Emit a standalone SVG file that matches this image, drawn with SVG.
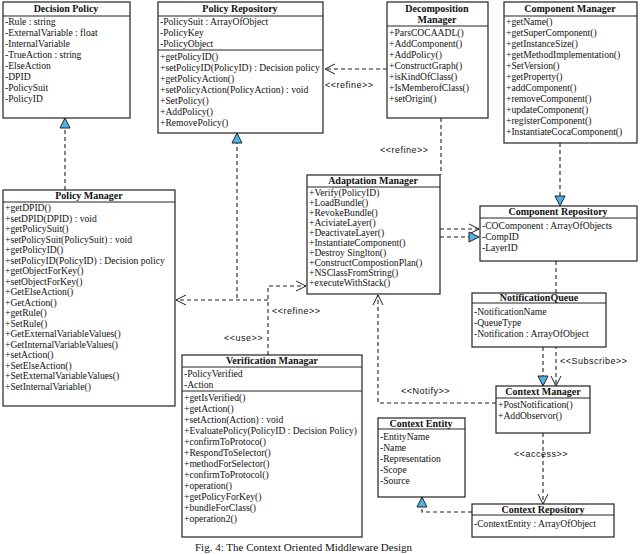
<svg xmlns="http://www.w3.org/2000/svg" width="640" height="554" viewBox="0 0 640 554">
<style>
.b{fill:#fff;stroke:#222;stroke-width:1.2}
.d{stroke:#222;stroke-width:1}
.t{font-family:'Liberation Serif','Times New Roman',serif;font-size:10px;font-weight:bold;text-anchor:middle;fill:#111}
.m{font-family:'Liberation Serif','Times New Roman',serif;font-size:9.6px;fill:#111}
.l{font-family:'Liberation Sans',Arial,sans-serif;font-size:9px;fill:#111;letter-spacing:0.5px}
.c path{fill:none;stroke:#222;stroke-width:1.1;stroke-dasharray:4,3}
.cap{font-family:'Liberation Serif','Times New Roman',serif;font-size:11px;fill:#111}
</style>
<defs>
<marker id="tri" viewBox="0 0 12 12" refX="11" refY="6" markerWidth="12" markerHeight="12" markerUnits="userSpaceOnUse" orient="auto"><path d="M1,1 L11,6 L1,11 Z" fill="#4db3ea" stroke="#222" stroke-width="1"/></marker>
<marker id="arr" viewBox="0 0 12 12" refX="11" refY="6" markerWidth="12" markerHeight="12" markerUnits="userSpaceOnUse" orient="auto"><path d="M1,1 L11,6 L1,11" fill="none" stroke="#222" stroke-width="1"/></marker>
</defs>
<g class="c">
<path d="M65,190 V118" marker-end="url(#tri)"/>
<path d="M237,298 V133" marker-end="url(#tri)"/>
<path d="M268,300 H176" marker-end="url(#arr)"/>
<path d="M268,355 V286 H306" marker-end="url(#arr)"/>
<path d="M387,69 H325" marker-end="url(#arr)"/>
<path d="M441,118 V175"/>
<path d="M560,143 V206" marker-end="url(#tri)"/>
<path d="M440,229 H479" marker-end="url(#arr)"/>
<path d="M440,237 H479" marker-end="url(#tri)"/>
<path d="M556,261 V386" marker-end="url(#arr)"/>
<path d="M543,347 V386" marker-end="url(#tri)"/>
<path d="M496,403 H378 V295" marker-end="url(#arr)"/>
<path d="M543,433 V504" marker-end="url(#arr)"/>
<path d="M472,512 H422 V497" marker-end="url(#tri)"/>
</g>
<g id="labels">
<text class="l" x="325" y="88">&lt;&lt;refine&gt;&gt;</text>
<text class="l" x="380" y="153">&lt;&lt;refine&gt;&gt;</text>
<text class="l" x="272" y="314">&lt;&lt;refine&gt;&gt;</text>
<text class="l" x="224" y="341">&lt;&lt;use&gt;&gt;</text>
<text class="l" x="401" y="394">&lt;&lt;Notify&gt;&gt;</text>
<text class="l" x="560" y="364">&lt;&lt;Subscribe&gt;&gt;</text>
<text class="l" x="514" y="457">&lt;&lt;access&gt;&gt;</text>
</g>
<g id="decision-policy">
<rect class="b" x="3" y="2" width="127" height="116"/><line class="d" x1="3" y1="16" x2="130" y2="16"/>
<text class="t" x="66" y="12">Decision Policy</text>
<text class="m" x="5" y="25">-Rule : string</text><text class="m" x="5" y="36">-ExternalVariable : float</text><text class="m" x="5" y="47">-InternalVariable</text><text class="m" x="5" y="58">-TrueAction : string</text><text class="m" x="5" y="69">-ElseAction</text><text class="m" x="5" y="80">-DPID</text><text class="m" x="5" y="91">-PolicySuit</text><text class="m" x="5" y="102">-PolicyID</text>
</g>
<g id="policy-repository">
<rect class="b" x="158" y="2" width="165" height="131"/><line class="d" x1="158" y1="16" x2="323" y2="16"/><line class="d" x1="158" y1="50" x2="323" y2="50"/>
<text class="t" x="240" y="12">Policy Repository</text>
<text class="m" x="160" y="25">-PolicySuit  : ArrayOfObject</text><text class="m" x="160" y="36">-PolicyKey</text><text class="m" x="160" y="47">-PolicyObject</text>
<text class="m" x="160" y="60">+getPolicyID()</text><text class="m" x="160" y="71">+setPolicyID(PolicyID) : Decision policy</text><text class="m" x="160" y="82">+getPolicyAction()</text><text class="m" x="160" y="93">+setPolicyAction(PolicyAction) : void</text><text class="m" x="160" y="104">+SetPolicy()</text><text class="m" x="160" y="115">+AddPolicy()</text><text class="m" x="160" y="126">+RemovePolicy()</text>
</g>
<g id="decomposition-manager">
<rect class="b" x="387" y="2" width="101" height="116"/><line class="d" x1="387" y1="26" x2="488" y2="26"/>
<text class="t" x="437" y="12">Decomposition</text><text class="t" x="437" y="23">Manager</text>
<text class="m" x="389" y="36">+ParsCOCAADL()</text><text class="m" x="389" y="47">+AddComponent()</text><text class="m" x="389" y="58">+AddPolicy()</text><text class="m" x="389" y="69">+ConstructGraph()</text><text class="m" x="389" y="80">+isKindOfClass()</text><text class="m" x="389" y="91">+IsMemberofClass()</text><text class="m" x="389" y="102">+setOrigin()</text>
</g>
<g id="component-manager">
<rect class="b" x="504" y="2" width="133" height="141"/><line class="d" x1="504" y1="16" x2="637" y2="16"/>
<text class="t" x="570" y="12">Component Manager</text>
<text class="m" x="506" y="25">+getName()</text><text class="m" x="506" y="36">+getSuperComponent()</text><text class="m" x="506" y="47">+getInstanceSize()</text><text class="m" x="506" y="58">+getMethodImplementation()</text><text class="m" x="506" y="69">+SetVersion()</text><text class="m" x="506" y="80">+getProperty()</text><text class="m" x="506" y="91">+addComponent()</text><text class="m" x="506" y="102">+removeComponent()</text><text class="m" x="506" y="113">+updateComponent()</text><text class="m" x="506" y="124">+registerComponent()</text><text class="m" x="506" y="135">+InstantiateCocaComponent()</text>
</g>
<g id="adaptation-manager">
<rect class="b" x="307" y="175" width="133" height="119"/><line class="d" x1="307" y1="187" x2="440" y2="187"/>
<text class="t" x="373" y="184">Adaptation Manager</text>
<text class="m" x="309" y="196">+Verify(PolicyID)</text><text class="m" x="309" y="206">+LoadBundle()</text><text class="m" x="309" y="216">+RevokeBundle()</text><text class="m" x="309" y="226">+AciviateLayer()</text><text class="m" x="309" y="236">+DeactivateLayer()</text><text class="m" x="309" y="246">+InstantiateComponent()</text><text class="m" x="309" y="256">+Destroy Singlton()</text><text class="m" x="309" y="266">+ConstructCompostionPlan()</text><text class="m" x="309" y="276">+NSClassFromString()</text><text class="m" x="309" y="286">+executeWithStack()</text>
</g>
<g id="component-repository">
<rect class="b" x="480" y="206" width="157" height="55"/><line class="d" x1="480" y1="218" x2="637" y2="218"/>
<text class="t" x="558" y="215">Component Repository</text>
<text class="m" x="482" y="229">-COComponent : ArrayOfObjects</text><text class="m" x="482" y="240">-CompID</text><text class="m" x="482" y="251">-LayerID</text>
</g>
<g id="policy-manager">
<rect class="b" x="3" y="190" width="172" height="216"/><line class="d" x1="3" y1="202" x2="175" y2="202"/>
<text class="t" x="89" y="199">Policy Manager</text>
<text class="m" x="5" y="211">+getDPID()</text><text class="m" x="5" y="221.5">+setDPID(DPID) : void</text><text class="m" x="5" y="232">+getPolicySuit()</text><text class="m" x="5" y="242.5">+setPolicySuit(PolicySuit) : void</text><text class="m" x="5" y="253">+getPolicyID()</text><text class="m" x="5" y="263.5">+setPolicyID(PolicyID) : Decision policy</text><text class="m" x="5" y="274">+getObjectForKey()</text><text class="m" x="5" y="284.5">+setObjectForKey()</text><text class="m" x="5" y="295">+GetElseAction()</text><text class="m" x="5" y="305.5">+GetAction()</text><text class="m" x="5" y="316">+getRule()</text><text class="m" x="5" y="326.5">+SetRule()</text><text class="m" x="5" y="337">+GetExternalVariableValues()</text><text class="m" x="5" y="347.5">+GetInternalVariableValues()</text><text class="m" x="5" y="358">+setAction()</text><text class="m" x="5" y="368.5">+SetElseAction()</text><text class="m" x="5" y="379">+SetExternalVariableValues()</text><text class="m" x="5" y="389.5">+SetInternalVariable()</text>
</g>
<g id="verification-managar">
<rect class="b" x="182" y="355" width="180" height="182"/><line class="d" x1="182" y1="367" x2="362" y2="367"/><line class="d" x1="182" y1="391" x2="362" y2="391"/>
<text class="t" x="272" y="364">Verification Managar</text>
<text class="m" x="184" y="377">-PolicyVerified</text><text class="m" x="184" y="388">-Action</text>
<text class="m" x="184" y="401">+getIsVerified()</text><text class="m" x="184" y="412">+getAction()</text><text class="m" x="184" y="423">+setAction(Action) : void</text><text class="m" x="184" y="434">+EvaluatePolicy(PolicyID : Decision Policy)</text><text class="m" x="184" y="445">+confirmToProtoco()</text><text class="m" x="184" y="456">+RespondToSelector()</text><text class="m" x="184" y="467">+methodForSelector()</text><text class="m" x="184" y="478">+confirmToProtocol()</text><text class="m" x="184" y="489">+operation()</text><text class="m" x="184" y="500">+getPolicyForKey()</text><text class="m" x="184" y="511">+bundleForClass()</text><text class="m" x="184" y="522">+operation2()</text>
</g>
<g id="notification-queue">
<rect class="b" x="472" y="293" width="134" height="54"/><line class="d" x1="472" y1="303" x2="606" y2="303"/>
<text class="t" x="539" y="301">NotificationQueue</text>
<text class="m" x="474" y="315">-NotificationName</text><text class="m" x="474" y="326">-QueueType</text><text class="m" x="474" y="337">-Notification : ArrayOfObject</text>
</g>
<g id="context-manager">
<rect class="b" x="496" y="386" width="94" height="47"/><line class="d" x1="496" y1="398" x2="590" y2="398"/>
<text class="t" x="543" y="395">Context Manager</text>
<text class="m" x="498" y="408">+PostNotification()</text><text class="m" x="498" y="419">+AddObservor()</text>
</g>
<g id="context-entity">
<rect class="b" x="378" y="418" width="87" height="79"/><line class="d" x1="378" y1="429" x2="465" y2="429"/>
<text class="t" x="421" y="427">Context Entity</text>
<text class="m" x="380" y="440">-EntityName</text><text class="m" x="380" y="451">-Name</text><text class="m" x="380" y="462">-Representation</text><text class="m" x="380" y="473">-Scope</text><text class="m" x="380" y="484">-Source</text>
</g>
<g id="context-repository">
<rect class="b" x="472" y="504" width="142" height="33"/><line class="d" x1="472" y1="515" x2="614" y2="515"/>
<text class="t" x="543" y="513">Context Repository</text>
<text class="m" x="474" y="527">-ContextEntity : ArrayOfObject</text>
</g>
<text class="cap" x="195" y="551">Fig. 4: The Context Oriented Middleware Design</text>
</svg>
